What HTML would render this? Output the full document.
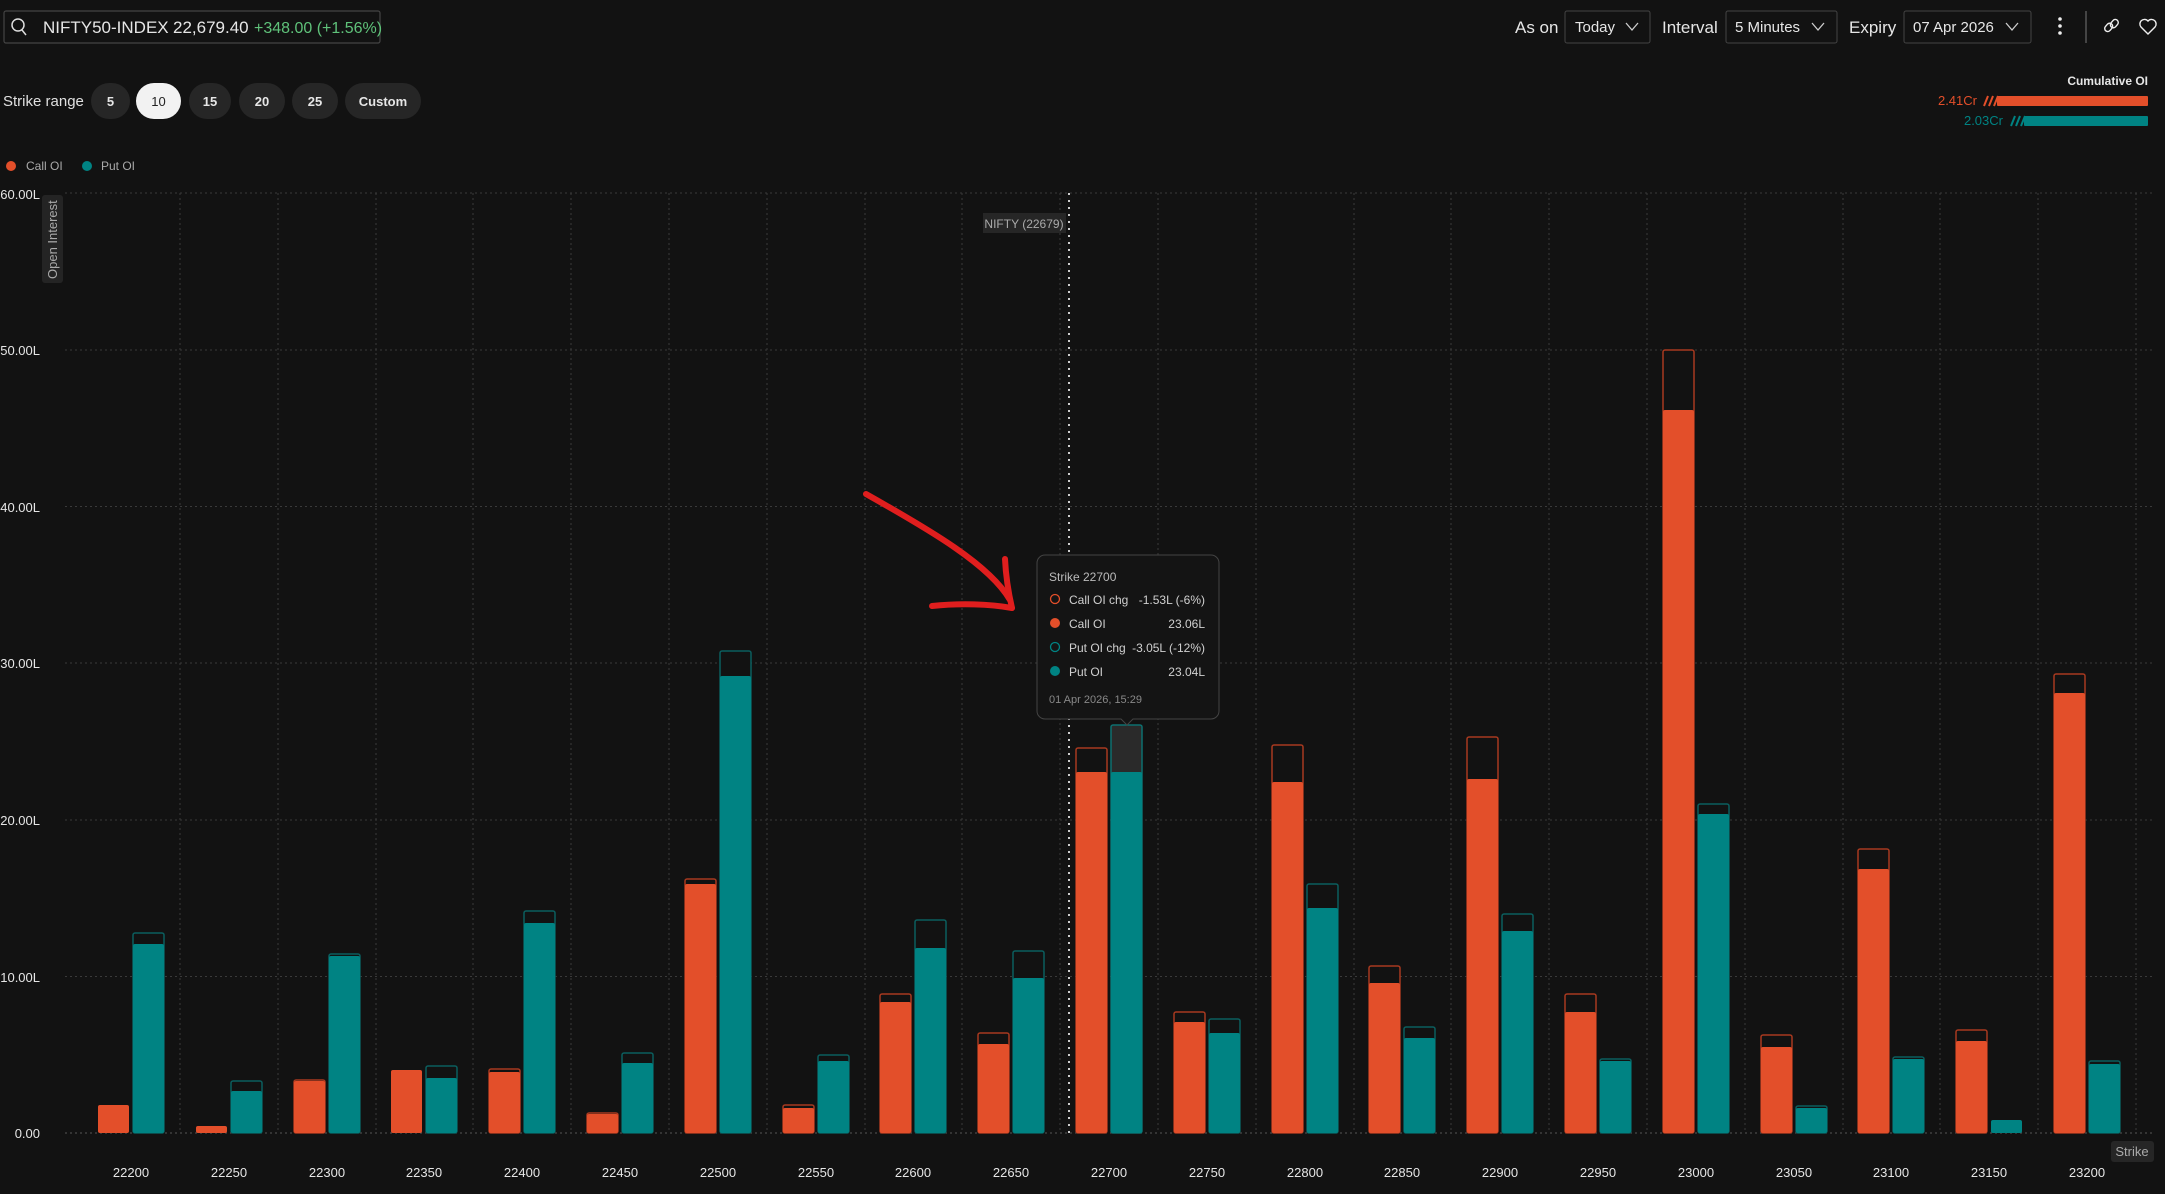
<!DOCTYPE html>
<html><head><meta charset="utf-8"><style>
html,body{margin:0;padding:0;background:#121212;}
svg{display:block;font-family:"Liberation Sans",sans-serif;}
</style></head><body>
<svg width="2165" height="1194" viewBox="0 0 2165 1194" xmlns="http://www.w3.org/2000/svg">
<rect width="2165" height="1194" fill="#121212"/>
<!-- header -->
<rect x="4" y="11" width="376" height="32" rx="2" fill="#121212" stroke="#444" stroke-width="1.2"/>
<circle cx="18" cy="25" r="6" fill="none" stroke="#ddd" stroke-width="1.5"/>
<line x1="22" y1="30" x2="26" y2="35" stroke="#ddd" stroke-width="1.5"/>
<text x="43" y="33" font-size="17" fill="#e6e6e6">NIFTY50-INDEX</text>
<text x="173" y="33" font-size="17" fill="#e6e6e6">22,679.40</text>
<text x="254" y="33" font-size="16" fill="#5fc27a">+348.00 (+1.56%)</text>

<text x="3" y="106" font-size="15" fill="#e0e0e0">Strike range</text>
<rect x="91" y="83" width="39" height="36" rx="18" fill="#262626"/><text x="110.5" y="106" font-size="13" font-weight="bold" fill="#e6e6e6" text-anchor="middle">5</text>
<rect x="136" y="83" width="45" height="36" rx="18" fill="#f2f2f2"/><text x="158.5" y="106" font-size="13" fill="#222" text-anchor="middle">10</text>
<rect x="189" y="83" width="42" height="36" rx="18" fill="#262626"/><text x="210" y="106" font-size="13" font-weight="bold" fill="#e6e6e6" text-anchor="middle">15</text>
<rect x="239" y="83" width="46" height="36" rx="18" fill="#262626"/><text x="262" y="106" font-size="13" font-weight="bold" fill="#e6e6e6" text-anchor="middle">20</text>
<rect x="292" y="83" width="46" height="36" rx="18" fill="#262626"/><text x="315" y="106" font-size="13" font-weight="bold" fill="#e6e6e6" text-anchor="middle">25</text>
<rect x="345" y="83" width="76" height="36" rx="18" fill="#262626"/><text x="383" y="106" font-size="13" font-weight="bold" fill="#e6e6e6" text-anchor="middle">Custom</text>

<circle cx="11" cy="166" r="5" fill="#e34f2a"/><text x="26" y="170" font-size="12" fill="#aaa">Call OI</text>
<circle cx="87" cy="166" r="5" fill="#008383"/><text x="101" y="170" font-size="12" fill="#aaa">Put OI</text>

<text x="1515" y="33" font-size="17" fill="#e6e6e6">As on</text>
<rect x="1565" y="11" width="85" height="32" rx="2" fill="none" stroke="#444"/>
<text x="1575" y="32" font-size="15" fill="#e6e6e6">Today</text>
<polyline points="1626,23 1632,30 1638,23" fill="none" stroke="#ccc" stroke-width="1.3"/>
<text x="1662" y="33" font-size="17" fill="#e6e6e6">Interval</text>
<rect x="1726" y="11" width="111" height="32" rx="2" fill="none" stroke="#444"/>
<text x="1735" y="32" font-size="15" fill="#e6e6e6">5 Minutes</text>
<polyline points="1812,23 1818,30 1824,23" fill="none" stroke="#ccc" stroke-width="1.3"/>
<text x="1849" y="33" font-size="17" fill="#e6e6e6">Expiry</text>
<rect x="1904" y="11" width="127" height="32" rx="2" fill="none" stroke="#444"/>
<text x="1913" y="32" font-size="15" fill="#e6e6e6">07 Apr 2026</text>
<polyline points="2006,23 2012,30 2018,23" fill="none" stroke="#ccc" stroke-width="1.3"/>
<circle cx="2060" cy="19" r="1.8" fill="#eee"/><circle cx="2060" cy="26" r="1.8" fill="#eee"/><circle cx="2060" cy="33" r="1.8" fill="#eee"/>
<line x1="2086" y1="11" x2="2086" y2="43" stroke="#555" stroke-width="1.5"/>
<g stroke="#eee" stroke-width="1.4" fill="none"><rect x="2106" y="23" width="6" height="9" rx="3" transform="rotate(40 2109 27)"/><rect x="2111" y="19" width="6" height="9" rx="3" transform="rotate(40 2114 24)"/></g>
<path d="M2148 34 L2141 27 A4 4 0 0 1 2148 21 A4 4 0 0 1 2155 27 Z" fill="none" stroke="#eee" stroke-width="1.4"/>

<text x="2148" y="85" font-size="12" font-weight="bold" fill="#e6e6e6" text-anchor="end">Cumulative OI</text>
<text x="1977" y="105" font-size="13" fill="#e34f2a" text-anchor="end">2.41Cr</text>
<g stroke="#e34f2a" stroke-width="2"><line x1="1984" y1="106" x2="1988" y2="96"/><line x1="1989" y1="106" x2="1993" y2="96"/><line x1="1994" y1="106" x2="1998" y2="96"/></g>
<rect x="1997" y="96" width="151" height="10" rx="1" fill="#e34f2a"/>
<text x="2003" y="125" font-size="13" fill="#008383" text-anchor="end">2.03Cr</text>
<g stroke="#008383" stroke-width="2"><line x1="2011" y1="126" x2="2015" y2="116"/><line x1="2016" y1="126" x2="2020" y2="116"/><line x1="2021" y1="126" x2="2025" y2="116"/></g>
<rect x="2024" y="116" width="124" height="10" rx="1" fill="#008383"/>

<!-- grid -->
<g stroke="#3a3a3a" stroke-width="1" stroke-dasharray="2,3">
<line x1="65" y1="193" x2="2153" y2="193"/><line x1="65" y1="350" x2="2153" y2="350"/><line x1="65" y1="506.5" x2="2153" y2="506.5"/><line x1="65" y1="663" x2="2153" y2="663"/><line x1="65" y1="820" x2="2153" y2="820"/><line x1="65" y1="976.5" x2="2153" y2="976.5"/><line x1="65" y1="1133" x2="2153" y2="1133" stroke="#555"/>
<line x1="180" y1="193" x2="180" y2="1133"/><line x1="278" y1="193" x2="278" y2="1133"/><line x1="376" y1="193" x2="376" y2="1133"/><line x1="473" y1="193" x2="473" y2="1133"/><line x1="571" y1="193" x2="571" y2="1133"/><line x1="669" y1="193" x2="669" y2="1133"/><line x1="767" y1="193" x2="767" y2="1133"/><line x1="865" y1="193" x2="865" y2="1133"/><line x1="962" y1="193" x2="962" y2="1133"/><line x1="1060" y1="193" x2="1060" y2="1133"/><line x1="1158" y1="193" x2="1158" y2="1133"/><line x1="1256" y1="193" x2="1256" y2="1133"/><line x1="1354" y1="193" x2="1354" y2="1133"/><line x1="1451" y1="193" x2="1451" y2="1133"/><line x1="1549" y1="193" x2="1549" y2="1133"/><line x1="1647" y1="193" x2="1647" y2="1133"/><line x1="1745" y1="193" x2="1745" y2="1133"/><line x1="1843" y1="193" x2="1843" y2="1133"/><line x1="1940" y1="193" x2="1940" y2="1133"/><line x1="2038" y1="193" x2="2038" y2="1133"/><line x1="2136" y1="193" x2="2136" y2="1133"/>
</g>
<g font-size="13" fill="#e6e6e6" text-anchor="end">
<text x="40" y="199">60.00L</text><text x="40" y="355">50.00L</text><text x="40" y="512">40.00L</text><text x="40" y="668">30.00L</text><text x="40" y="825">20.00L</text><text x="40" y="982">10.00L</text><text x="40" y="1138">0.00</text>
</g>
<rect x="42" y="195" width="21" height="88" rx="3" fill="#242424"/>
<text transform="translate(57 279) rotate(-90)" font-size="13" fill="#aaa">Open Interest</text>

<!-- outlines -->
<g fill="#121212" stroke-width="1.5">
<g stroke="#a8391f">
<rect x="294" y="1080" width="31" height="53" rx="2"/><rect x="489" y="1069" width="31" height="64" rx="2"/><rect x="587" y="1113" width="31" height="20" rx="2"/><rect x="685" y="879" width="31" height="254" rx="2"/><rect x="783" y="1105" width="31" height="28" rx="2"/><rect x="880" y="994" width="31" height="139" rx="2"/><rect x="978" y="1033" width="31" height="100" rx="2"/><rect x="1076" y="748" width="31" height="385" rx="2"/><rect x="1174" y="1012" width="31" height="121" rx="2"/><rect x="1272" y="745" width="31" height="388" rx="2"/><rect x="1369" y="966" width="31" height="167" rx="2"/><rect x="1467" y="737" width="31" height="396" rx="2"/><rect x="1565" y="994" width="31" height="139" rx="2"/><rect x="1663" y="350" width="31" height="783" rx="2"/><rect x="1761" y="1035" width="31" height="98" rx="2"/><rect x="1858" y="849" width="31" height="284" rx="2"/><rect x="1956" y="1030" width="31" height="103" rx="2"/><rect x="2054" y="674" width="31" height="459" rx="2"/>
</g>
<g stroke="#0b5e5e">
<rect x="133" y="933" width="31" height="200" rx="2"/><rect x="231" y="1081" width="31" height="52" rx="2"/><rect x="329" y="954" width="31" height="179" rx="2"/><rect x="426" y="1066" width="31" height="67" rx="2"/><rect x="524" y="911" width="31" height="222" rx="2"/><rect x="622" y="1053" width="31" height="80" rx="2"/><rect x="720" y="651" width="31" height="482" rx="2"/><rect x="818" y="1055" width="31" height="78" rx="2"/><rect x="915" y="920" width="31" height="213" rx="2"/><rect x="1013" y="951" width="31" height="182" rx="2"/><rect x="1111" y="725" width="31" height="408" rx="2" fill="#2a2a2a" stroke="#0d7070"/><rect x="1209" y="1019" width="31" height="114" rx="2"/><rect x="1307" y="884" width="31" height="249" rx="2"/><rect x="1404" y="1027" width="31" height="106" rx="2"/><rect x="1502" y="914" width="31" height="219" rx="2"/><rect x="1600" y="1059" width="31" height="74" rx="2"/><rect x="1698" y="804" width="31" height="329" rx="2"/><rect x="1796" y="1106" width="31" height="27" rx="2"/><rect x="1893" y="1057" width="31" height="76" rx="2"/><rect x="2089" y="1061" width="31" height="72" rx="2"/>
</g>
</g>
<!-- filled -->
<g fill="#e34f2a">
<rect x="98" y="1105" width="31" height="28" rx="2"/><rect x="196" y="1126" width="31" height="7" rx="2"/><rect x="294" y="1081" width="31" height="52" rx="2"/><rect x="391" y="1070" width="31" height="63" rx="2"/><rect x="489" y="1072" width="31" height="61" rx="2"/><rect x="587" y="1114" width="31" height="19" rx="2"/><rect x="685" y="884" width="31" height="249" rx="2"/><rect x="783" y="1108" width="31" height="25" rx="2"/><rect x="880" y="1002" width="31" height="131" rx="2"/><rect x="978" y="1044" width="31" height="89" rx="2"/><rect x="1076" y="772" width="31" height="361" rx="2"/><rect x="1174" y="1022" width="31" height="111" rx="2"/><rect x="1272" y="782" width="31" height="351" rx="2"/><rect x="1369" y="983" width="31" height="150" rx="2"/><rect x="1467" y="779" width="31" height="354" rx="2"/><rect x="1565" y="1012" width="31" height="121" rx="2"/><rect x="1663" y="410" width="31" height="723" rx="2"/><rect x="1761" y="1047" width="31" height="86" rx="2"/><rect x="1858" y="869" width="31" height="264" rx="2"/><rect x="1956" y="1041" width="31" height="92" rx="2"/><rect x="2054" y="693" width="31" height="440" rx="2"/>
</g>
<g fill="#008383">
<rect x="133" y="944" width="31" height="189" rx="2"/><rect x="231" y="1091" width="31" height="42" rx="2"/><rect x="329" y="956" width="31" height="177" rx="2"/><rect x="426" y="1078" width="31" height="55" rx="2"/><rect x="524" y="923" width="31" height="210" rx="2"/><rect x="622" y="1063" width="31" height="70" rx="2"/><rect x="720" y="676" width="31" height="457" rx="2"/><rect x="818" y="1061" width="31" height="72" rx="2"/><rect x="915" y="948" width="31" height="185" rx="2"/><rect x="1013" y="978" width="31" height="155" rx="2"/><rect x="1111" y="772" width="31" height="361" rx="2"/><rect x="1209" y="1033" width="31" height="100" rx="2"/><rect x="1307" y="908" width="31" height="225" rx="2"/><rect x="1404" y="1038" width="31" height="95" rx="2"/><rect x="1502" y="931" width="31" height="202" rx="2"/><rect x="1600" y="1061" width="31" height="72" rx="2"/><rect x="1698" y="814" width="31" height="319" rx="2"/><rect x="1796" y="1108" width="31" height="25" rx="2"/><rect x="1893" y="1059" width="31" height="74" rx="2"/><rect x="1991" y="1120" width="31" height="13" rx="2"/><rect x="2089" y="1064" width="31" height="69" rx="2"/>
</g>

<!-- x labels -->
<g font-size="13" fill="#e6e6e6" text-anchor="middle">
<text x="131" y="1177">22200</text><text x="229" y="1177">22250</text><text x="327" y="1177">22300</text><text x="424" y="1177">22350</text><text x="522" y="1177">22400</text><text x="620" y="1177">22450</text><text x="718" y="1177">22500</text><text x="816" y="1177">22550</text><text x="913" y="1177">22600</text><text x="1011" y="1177">22650</text><text x="1109" y="1177">22700</text><text x="1207" y="1177">22750</text><text x="1305" y="1177">22800</text><text x="1402" y="1177">22850</text><text x="1500" y="1177">22900</text><text x="1598" y="1177">22950</text><text x="1696" y="1177">23000</text><text x="1794" y="1177">23050</text><text x="1891" y="1177">23100</text><text x="1989" y="1177">23150</text><text x="2087" y="1177">23200</text>
</g>
<rect x="2111" y="1141" width="43" height="21" rx="3" fill="#262626"/>
<text x="2132" y="1156" font-size="13" fill="#aaa" text-anchor="middle">Strike</text>

<!-- nifty line -->
<line x1="1069" y1="193" x2="1069" y2="1133" stroke="#cfcfcf" stroke-width="2" stroke-dasharray="2,5"/>
<rect x="983" y="213" width="83" height="20" fill="#262626"/>
<text x="1024" y="228" font-size="12" fill="#aaa" text-anchor="middle">NIFTY (22679)</text>

<!-- arrow -->
<g fill="none" stroke="#e01e1e" stroke-width="6" stroke-linecap="round">
<path d="M866 494 C 930 530, 990 565, 1010 600"/>
<path d="M932 606 C 960 603, 990 604, 1012 608"/>
<path d="M1005 559 C 1006 580, 1009 595, 1012 608"/>
</g>

<!-- tooltip -->
<path d="M1045 555 H1211 A8 8 0 0 1 1219 563 V711 A8 8 0 0 1 1211 719 H1133 L1127 725 L1121 719 H1045 A8 8 0 0 1 1037 711 V563 A8 8 0 0 1 1045 555 Z" fill="#141414" stroke="#444" stroke-width="1"/>
<text x="1049" y="581" font-size="12" fill="#bbb">Strike 22700</text>
<circle cx="1055" cy="599" r="4.5" fill="none" stroke="#e34f2a" stroke-width="1.3"/>
<circle cx="1055" cy="623" r="5" fill="#e34f2a"/>
<circle cx="1055" cy="647" r="4.5" fill="none" stroke="#008383" stroke-width="1.3"/>
<circle cx="1055" cy="671" r="5" fill="#008383"/>
<g font-size="12" fill="#d0d0d0">
<text x="1069" y="604">Call OI chg</text><text x="1069" y="628">Call OI</text><text x="1069" y="652">Put OI chg</text><text x="1069" y="676">Put OI</text>
</g>
<g font-size="12" fill="#d0d0d0" text-anchor="end">
<text x="1205" y="604">-1.53L (-6%)</text><text x="1205" y="628">23.06L</text><text x="1205" y="652">-3.05L (-12%)</text><text x="1205" y="676">23.04L</text>
</g>
<text x="1049" y="703" font-size="11" fill="#888">01 Apr 2026, 15:29</text>
</svg>
</body></html>
